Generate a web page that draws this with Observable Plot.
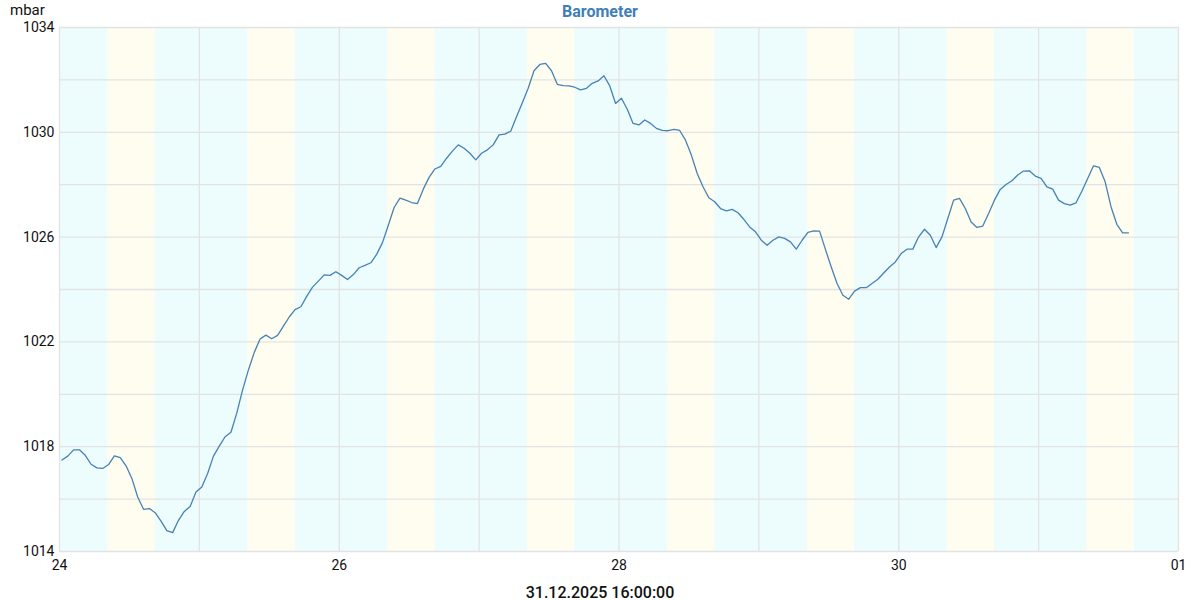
<!DOCTYPE html>
<html>
<head>
<meta charset="utf-8">
<script src="https://cdn.jsdelivr.net/npm/d3@7"></script>
<script src="https://cdn.jsdelivr.net/npm/@observablehq/plot@0.6"></script>
<style>
  html, body { margin: 0; padding: 0; background: #fff; overflow: hidden; }
  #wrap { position: relative; width: 1200px; height: 600px; font-family: Roboto, "DejaVu Sans", sans-serif; }
  #title { position: absolute; left: 0; width: 1200px; top: 3px; line-height: 18px; text-align: center; font-weight: 700; font-size: 16px; color: #3f7fb8; }
  #unit { position: absolute; left: 10px; top: 2px; line-height: 17px; font-size: 15px; color: #111; }
  #stamp { position: absolute; left: 0; width: 1200px; top: 585px; line-height: 15px; text-align: center; font-weight: 500; font-size: 16px; color: #111; }
  #chart { position: absolute; left: 0; top: 0; }
</style>
</head>
<body>
<div id="wrap">
  <div id="chart"></div>
  <div id="unit">mbar</div>
  <div id="title">Barometer</div>
  <div id="stamp">31.12.2025 16:00:00</div>
</div>
<script>
// ---- data ----
const titleText = "Barometer";
const unitText = "mbar";
const stampText = "31.12.2025 16:00:00";
// first reading time (UTC-based), hourly readings after
const firstReading = "2025-12-24T00:25:00Z";
const pressure = [
  1017.49, 1017.64, 1017.88, 1017.88, 1017.67, 1017.33, 1017.19, 1017.17, 1017.32, 1017.65,
  1017.58, 1017.27, 1016.79, 1016.08, 1015.61, 1015.64, 1015.48, 1015.16, 1014.80, 1014.72,
  1015.19, 1015.53, 1015.72, 1016.27, 1016.46, 1016.98, 1017.64, 1018.02, 1018.38, 1018.55,
  1019.28, 1020.17, 1020.93, 1021.60, 1022.11, 1022.26, 1022.12, 1022.25, 1022.60, 1022.95,
  1023.23, 1023.34, 1023.74, 1024.09, 1024.32, 1024.56, 1024.54, 1024.68, 1024.54, 1024.38,
  1024.57, 1024.83, 1024.92, 1025.02, 1025.34, 1025.79, 1026.45, 1027.13, 1027.49, 1027.41,
  1027.32, 1027.28, 1027.83, 1028.28, 1028.60, 1028.70, 1029.01, 1029.28, 1029.52, 1029.39,
  1029.20, 1028.95, 1029.20, 1029.33, 1029.52, 1029.90, 1029.93, 1030.04, 1030.59, 1031.13,
  1031.68, 1032.35, 1032.59, 1032.63, 1032.35, 1031.83, 1031.78, 1031.77, 1031.72, 1031.62,
  1031.68, 1031.87, 1031.96, 1032.16, 1031.77, 1031.10, 1031.30, 1030.88, 1030.34, 1030.28,
  1030.47, 1030.34, 1030.15, 1030.07, 1030.06, 1030.11, 1030.07, 1029.70, 1029.13, 1028.43,
  1027.92, 1027.50, 1027.35, 1027.09, 1027.00, 1027.06, 1026.93, 1026.68, 1026.39, 1026.20,
  1025.88, 1025.69, 1025.88, 1026.01, 1025.95, 1025.82, 1025.54, 1025.88, 1026.18, 1026.24,
  1026.23, 1025.53, 1024.86, 1024.23, 1023.78, 1023.63, 1023.94, 1024.07, 1024.07, 1024.23,
  1024.39, 1024.63, 1024.86, 1025.05, 1025.37, 1025.54, 1025.54, 1026.01, 1026.30, 1026.07,
  1025.60, 1026.01, 1026.71, 1027.41, 1027.48, 1027.09, 1026.58, 1026.37, 1026.42, 1026.90,
  1027.41, 1027.82, 1028.01, 1028.15, 1028.37, 1028.52, 1028.53, 1028.33, 1028.24, 1027.92,
  1027.83, 1027.41, 1027.28, 1027.22, 1027.31, 1027.75, 1028.24, 1028.72, 1028.66, 1028.11,
  1027.16, 1026.49, 1026.16, 1026.16
];
// days shown, with daylight window (sunrise/sunset, hh:mm)
const days = ["2025-12-24","2025-12-25","2025-12-26","2025-12-27","2025-12-28","2025-12-29","2025-12-30","2025-12-31"];
const sunrise = ["08:20","08:20","08:20","08:20","08:20","08:20","08:20","08:20"];
const sunset  = ["16:25","16:25","16:25","16:25","16:25","16:25","16:25","16:25"];
const xStart = "2025-12-24", xEnd = "2026-01-01";
const xTickLabels = ["2025-12-24","2025-12-26","2025-12-28","2025-12-30","2026-01-01"];
const yTicks = [1014, 1018, 1022, 1026, 1030, 1034];
const yGrid = [1014, 1016, 1018, 1020, 1022, 1024, 1026, 1028, 1030, 1032, 1034];

// ---- build ----
document.getElementById("title").textContent = titleText;
document.getElementById("unit").textContent = unitText;
document.getElementById("stamp").textContent = stampText;

const parseDay = s => new Date(s + "T00:00:00Z");
const t0 = new Date(firstReading);
const series = pressure.map((v, i) => ({t: new Date(+t0 + i * 3600e3), v}));

const bands = [];
days.forEach((d, i) => {
  const start = parseDay(d);
  const rise = new Date(d + "T" + sunrise[i] + ":00Z");
  const set = new Date(d + "T" + sunset[i] + ":00Z");
  const end = d3.utcDay.offset(start, 1);
  bands.push({x1: start, x2: rise, kind: "night"});
  bands.push({x1: rise, x2: set, kind: "day"});
  bands.push({x1: set, x2: end, kind: "night"});
});
const dayLines = d3.utcDay.range(parseDay(xStart), d3.utcDay.offset(parseDay(xEnd), 1));

const chart = Plot.plot({
  width: 1200,
  height: 600,
  marginTop: 27,
  marginBottom: 49,
  marginLeft: 59,
  marginRight: 22,
  style: {fontFamily: "Roboto, sans-serif", fontSize: "14px", color: "#111", background: "transparent"},
  x: {type: "utc", domain: [parseDay(xStart), parseDay(xEnd)], ticks: xTickLabels.map(parseDay),
      tickFormat: d3.utcFormat("%d"), tickSize: 0, tickPadding: 9, label: null},
  y: {domain: [1014, 1034], ticks: yTicks, tickFormat: d => String(d), tickSize: 0, tickPadding: 5, label: null},
  color: {domain: ["night", "day"], range: ["#edfcfd", "#fffdef"]},
  marks: [
    Plot.rect(bands, {x1: "x1", x2: "x2", y1: 1014, y2: 1034, fill: "kind"}),
    Plot.ruleY(yGrid, {stroke: "#e3e3e3", strokeWidth: 1.3}),
    Plot.ruleX(dayLines, {stroke: "#e3e3e3", strokeWidth: 1.3}),
    Plot.line(series, {x: "t", y: "v", stroke: "#4682b4", strokeWidth: 1.3})
  ]
});
document.getElementById("chart").appendChild(chart);
</script>
</body>
</html>
